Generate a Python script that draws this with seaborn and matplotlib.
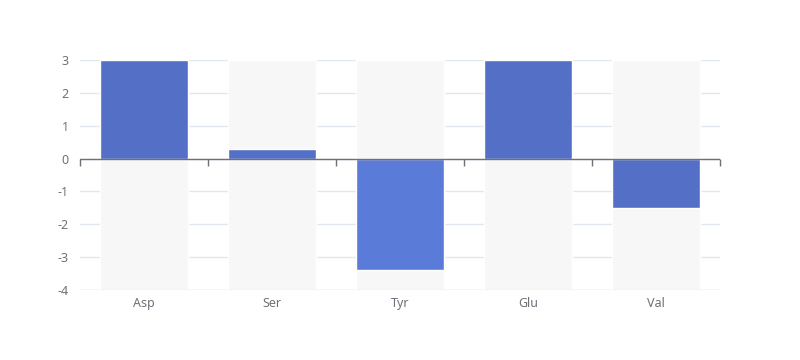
import matplotlib
matplotlib.use("Agg")
import matplotlib.pyplot as plt
import seaborn as sns
import pandas as pd

# data
categories = ["Asp", "Ser", "Tyr", "Glu", "Val"]
values = [3, 0.3, -3.4, 3, -1.5]
bar_colors = ["#5470c6", "#5470c6", "#5b7bd8", "#5470c6", "#5470c6"]
y_ticks = [-4, -3, -2, -1, 0, 1, 2, 3]

y_min, y_max = -4, 3
axis_color = "#6e7079"
grid_color = "#e0e6f1"
bg_color = "#f7f7f7"

df = pd.DataFrame({"cat": categories, "val": values})

sns.set_style("white")
plt.rcParams["font.family"] = ["Noto Sans", "DejaVu Sans"]
plt.rcParams["axes.unicode_minus"] = False

fig = plt.figure(figsize=(8, 3.6), dpi=100)
ax = fig.add_axes([0.1, 70 / 360, 0.8, 230 / 360])

# background bars spanning the whole value range
ax.bar(categories, [y_max - y_min] * len(categories), bottom=y_min,
       width=0.69, color=bg_color, zorder=1)

sns.barplot(data=df, x="cat", y="val", hue="cat", palette=bar_colors,
            width=0.69, legend=False, ax=ax, zorder=3, saturation=1)

ax.set_ylim(y_min, y_max)
ax.set_xlim(-0.5, len(categories) - 0.5)
ax.set_yticks(y_ticks)
ax.yaxis.grid(True, color=grid_color, linewidth=1, zorder=0)
ax.set_axisbelow(True)
ax.set_xlabel("")
ax.set_ylabel("")

for s in ax.spines.values():
    s.set_visible(False)

# bottom split line shows through the background bars
ax.axhline(y_min, color=grid_color, linewidth=1, zorder=2)

ax.tick_params(axis="x", length=0, pad=5, labelsize=9, labelcolor=axis_color)
ax.tick_params(axis="y", length=0, pad=8, labelsize=9, labelcolor=axis_color)

# category axis line sits on zero, like the reference
ax.axhline(0, color=axis_color, linewidth=1, zorder=4)
zero_frac = (0 - y_min) / (y_max - y_min)
sec = ax.secondary_xaxis(zero_frac)
sec.set_zorder(5)
sec.set_xticks([i - 0.5 for i in range(len(categories) + 1)])
sec.set_xticklabels([])
for s in sec.spines.values():
    s.set_visible(False)
sec.tick_params(axis="x", which="both", bottom=True, top=False,
                length=5, width=1, color=axis_color, direction="out")

fig.savefig("out.png", dpi=100, facecolor="white")
